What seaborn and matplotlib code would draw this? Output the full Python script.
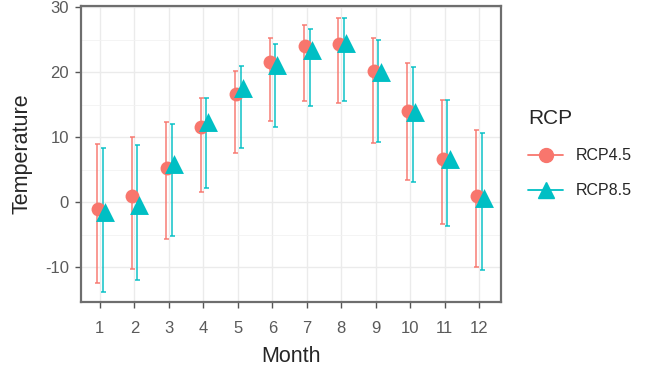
import numpy as np
import pandas as pd
import matplotlib
matplotlib.use("Agg")
import matplotlib.pyplot as plt
from matplotlib.lines import Line2D
import seaborn as sns

# values
months = list(range(1, 13))
rcp45_mean = [-1.0, 1.0, 5.3, 11.6, 16.6, 21.5, 24.0, 24.3, 20.2, 14.0, 6.7, 0.9]
rcp45_low = [-12.5, -10.3, -5.7, 1.6, 7.6, 12.5, 15.6, 15.3, 9.1, 3.4, -3.4, -10.0]
rcp45_high = [9.0, 10.0, 12.4, 16.1, 20.2, 25.2, 27.2, 28.3, 25.2, 21.4, 15.7, 11.1]
rcp85_mean = [-1.5, -0.5, 5.9, 12.4, 17.5, 21.1, 23.4, 24.5, 20.0, 13.9, 6.6, 0.7]
rcp85_low = [-13.8, -12.0, -5.2, 2.1, 8.4, 11.5, 14.8, 15.6, 9.2, 3.1, -3.7, -10.5]
rcp85_high = [8.3, 8.8, 12.0, 16.1, 20.9, 24.4, 26.6, 28.3, 24.9, 20.8, 15.7, 10.7]

scenarios = ["RCP4.5", "RCP8.5"]
colors = {"RCP4.5": "#F8766D", "RCP8.5": "#00BFC4"}
markers = {"RCP4.5": "o", "RCP8.5": "^"}
sizes = {"RCP4.5": 100, "RCP8.5": 185}
bar_shift = {"RCP4.5": -0.08, "RCP8.5": 0.08}
pt_shift = {"RCP4.5": -0.06, "RCP8.5": 0.14}

df = pd.concat([
    pd.DataFrame({"Month": months, "Temperature": rcp45_mean,
                  "low": rcp45_low, "high": rcp45_high, "RCP": "RCP4.5"}),
    pd.DataFrame({"Month": months, "Temperature": rcp85_mean,
                  "low": rcp85_low, "high": rcp85_high, "RCP": "RCP8.5"}),
], ignore_index=True)

sns.set_style("white")
plt.rcParams["font.family"] = ["Liberation Sans", "DejaVu Sans"]
plt.rcParams["axes.unicode_minus"] = False

fig = plt.figure(figsize=(6.63, 3.72), dpi=100)
ax = fig.add_axes([0.122, 0.188, 0.634, 0.796])

# error bars
for r in scenarios:
    d = df[df["RCP"] == r]
    x = d["Month"] + bar_shift[r]
    ax.errorbar(x, d["Temperature"],
                yerr=[d["Temperature"] - d["low"], d["high"] - d["Temperature"]],
                fmt="none", ecolor=colors[r], elinewidth=1.3, capsize=1.8,
                capthick=1.3, alpha=0.8, zorder=2)

# points
for r in scenarios:
    d = df[df["RCP"] == r].copy()
    d["x"] = d["Month"] + pt_shift[r]
    sns.scatterplot(data=d, x="x", y="Temperature", color=colors[r],
                    marker=markers[r], s=sizes[r], linewidth=0, ax=ax,
                    zorder=3, legend=False)

ax.set_xlim(0.45, 12.64)
ax.set_ylim(-15.4, 30.2)
ax.set_xticks(months)
ax.set_yticks([-10, 0, 10, 20, 30])
ax.set_yticks([-5, 5, 15, 25], minor=True)
ax.grid(True, which="major", color="#EBEBEB", linewidth=1.0)
ax.grid(True, which="minor", axis="y", color="#F2F2F2", linewidth=0.6)
ax.set_axisbelow(True)
for s in ax.spines.values():
    s.set_color("#6E6E6E")
    s.set_linewidth(1.6)
ax.tick_params(axis="both", which="major", length=4.5, width=1.0, color="#555555",
               labelsize=12, labelcolor="#5A5A5A", pad=4, bottom=True, left=True)
ax.tick_params(axis="x", which="major", pad=9)
ax.tick_params(axis="both", which="minor", length=0)
ax.set_xlabel("Month", fontsize=15.5, labelpad=7)
ax.set_ylabel("Temperature", fontsize=15.5, labelpad=9)

handles = [Line2D([0], [0], color=colors[r], marker=markers[r], markersize=10 if r == "RCP4.5" else 12,
                  linewidth=1.3, alpha=1.0) for r in scenarios]
leg = fig.legend(handles, scenarios, title="RCP", loc="upper left",
                 bbox_to_anchor=(0.775, 0.745), frameon=False, fontsize=11.5,
                 title_fontsize=15, handlelength=2.2, labelspacing=1.25,
                 handletextpad=0.8)
leg._legend_box.align = "left"

fig.savefig("out.png", dpi=100)
